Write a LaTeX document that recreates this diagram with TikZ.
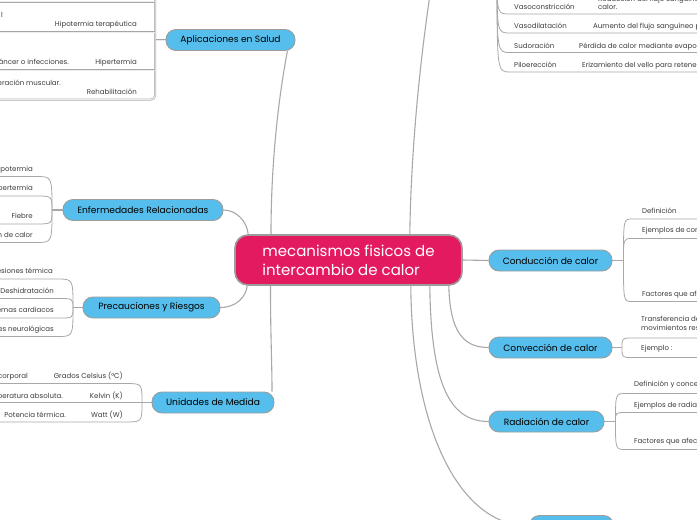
\documentclass[tikz,border=0pt]{standalone}
\usepackage{fontspec}
\setmainfont{Poppins}
\usetikzlibrary{backgrounds}
\definecolor{crim}{HTML}{E41A60}
\definecolor{sky}{HTML}{56BEEC}
\definecolor{lgray}{HTML}{A8A8A8}
\definecolor{bgray}{HTML}{9C9C9C}
\definecolor{txt}{HTML}{3A3A3A}
\begin{document}
\begin{tikzpicture}[x=1pt,y=-1pt,
  central/.style={rounded corners=13pt, fill=crim, draw=bgray, line width=1.6pt, text=white,
    font=\fontsize{15}{19}\selectfont, align=left, minimum width=227pt, minimum height=50pt, inner sep=0pt},
  topic/.style={rounded corners=10pt, fill=sky, draw=bgray, line width=0.9pt,
    font=\fontsize{9.1}{11}\selectfont, minimum height=21pt, inner sep=0pt, text=black},
  conn/.style={draw=lgray, line width=1.1pt},
  leafline/.style={draw=lgray, line width=0.8pt},
  lt/.style={font=\fontsize{7}{8.5}\selectfont, text=txt, inner sep=0pt},
  lte/.style={lt, anchor=base east},
  ltw/.style={lt, anchor=base west},
  boxline/.style={draw=gray!70, double=gray!15, double distance=1pt, line width=0.5pt}
]
\useasboundingbox (0,0) rectangle (697,520);
\clip (0,0) rectangle (697,520);

% central and topics
\node[central] (c) at (348.5,260) {mecanismos fisicos de\\intercambio de calor};
\node[topic, minimum width=129pt] (apl) at (230.5,40) {Aplicaciones en Salud};
\node[topic, minimum width=160pt] (enf) at (143,210) {Enfermedades Relacionadas};
\node[topic, minimum width=137pt] (pre) at (151.5,307.5) {Precauciones y Riesgos};
\node[topic, minimum width=122pt] (uni) at (213,402.5) {Unidades de Medida};
\node[topic, minimum width=123pt] (cond) at (550.5,260.5) {Conducción de calor};
\node[topic, minimum width=123pt] (conv) at (550.5,347.5) {Convección de calor};
\node[topic, minimum width=115pt] (rad) at (546.5,421.5) {Radiación de calor};
\node[topic, minimum width=84pt] (bot) at (571.5,526) {};
\coordinate (top) at (431,-12);

% junctions
\coordinate (aJ) at (155,40);
\coordinate (eJ) at (52,210);
\coordinate (pJ) at (73,307.5);
\coordinate (uJ) at (142,402.5);
\coordinate (cJ) at (623.5,260.5);
\coordinate (vJ) at (622,347.5);
\coordinate (rJ) at (615.5,421.5);
\coordinate (tJ) at (497,-30);

\begin{pgfonlayer}{background}
% main connectors
\draw[conn] ([xshift=-8pt]apl.south east) .. controls (279,95) and (271,160) .. ([xshift=-77.5pt]c.north);
\draw[conn] (enf.east) .. controls (237,210) and (247,222) .. ([xshift=14pt]c.north west);
\draw[conn] (pre.east) .. controls (236,307.5) and (246,297) .. ([xshift=13pt]c.south west);
\draw[conn] ([xshift=-78pt]c.south) .. controls (270.5,340) and (272,360) .. ([xshift=59pt]uni.north);
\draw[conn] (c.east) -- (cond.west);
\draw[conn] ([xshift=-14pt]c.south east) .. controls (450,330) and (462,347.5) .. (conv.west);
\draw[conn] ([xshift=-33pt]c.south east) .. controls (431,385) and (450,421.5) .. (rad.west);
\draw[conn] ([xshift=-52pt]c.south east) .. controls (412,430) and (460,526) .. (bot.west);
\draw[conn] ([xshift=-53pt]c.north east) .. controls (411,150) and (420,60) .. (top);

% topic to junction
\draw[boxline] (apl.west) -- (aJ);
\draw[conn] (enf.west) -- (eJ);
\draw[conn] (pre.west) -- (pJ);
\draw[conn] (uni.west) -- (uJ);
\draw[conn] (cond.east) -- (cJ);
\draw[conn] (conv.east) -- (vJ);
\draw[conn] (rad.east) -- (rJ);
\end{pgfonlayer}

% ---- Aplicaciones en Salud (boxed leaves)
\draw[boxline, rounded corners=4pt] (-5,99.5) -| (155,-8);
\draw[boxline] (-5,1.5) -- (155,1.5);
\draw[boxline] (-5,32) -- (155,32);
\draw[boxline] (-5,70) -- (155,70);
\node[lte] (a0) at (3,17) {l};
\node[lte] (a1) at (137,26) {Hipotermia terapéutica};
\node[lte] (a2) at (69,64) {cáncer o infecciones.};
\node[lte] (a3) at (137,64) {Hipertermia};
\node[lte] (a4) at (61,85) {peración muscular.};
\node[lte] (a5) at (137,94) {Rehabilitación};

% ---- Enfermedades Relacionadas
\node[lte] (e1) at (33,171.5) {ipotermia};
\node[lte] (e2) at (33,190.5) {pertermia};
\node[lte] (e3) at (33,218) {Fiebre};
\node[lte] (e4) at (33,237) {n de calor};
\draw[leafline] (-5,176.5) -- (36,176.5) .. controls (52,176.5) .. (eJ);
\draw[leafline] (-5,196) -- (36,196) .. controls (52,196) .. (eJ);
\draw[leafline] (-5,224) -- (36,224) .. controls (52,224) .. (eJ);
\draw[leafline] (-5,242.5) -- (36,242.5) .. controls (52,242.5) .. (eJ);

% ---- Precauciones y Riesgos
\node[lte] (p1) at (53,273.5) {esiones térmica};
\node[lte] (p2) at (54,293) {Deshidratación};
\node[lte] (p3) at (54,312) {emas cardiacos};
\node[lte] (p4) at (54,331) {es neurológicas};
\draw[leafline] (-5,279) -- (57,279) .. controls (73,279) .. (pJ);
\draw[leafline] (-5,298.5) -- (57,298.5) .. controls (73,298.5) .. (pJ);
\draw[leafline] (-5,318) -- (60,318) .. controls (73,318) .. (pJ);
\draw[leafline] (-5,336.5) -- (57,336.5) .. controls (73,336.5) .. (pJ);

% ---- Unidades de Medida
\node[lte] (u1) at (28,378) {corporal};
\node[lte] (u1b) at (123,378) {Grados Celsius (°C)};
\node[lte] (u2) at (63,398) {peratura absoluta.};
\node[lte] (u2b) at (123,398) {Kelvin (K)};
\node[lte] (u3) at (66,417) {Potencia térmica.};
\node[lte] (u3b) at (123,417) {Watt (W)};
\draw[leafline] (-5,383.5) -- (125,383.5) .. controls (142,383.5) .. (uJ);
\draw[leafline] (-5,402.5) -- (uJ);
\draw[leafline] (-5,422) -- (125,422) .. controls (142,422) .. (uJ);

% ---- Conduccion
\node[ltw] (k1) at (642,213.5) {Definición};
\node[ltw] (k2) at (642,232.5) {Ejemplos de con};
\node[ltw] (k3) at (642,296) {Factores que afe};
\draw[leafline] (cJ) .. controls (623.5,219) .. (632,219) -- (705,219);
\draw[leafline] (cJ) .. controls (623.5,238.5) .. (632,238.5) -- (705,238.5);
\draw[leafline] (cJ) .. controls (623.5,301.5) .. (632,301.5) -- (705,301.5);

% ---- Conveccion
\node[ltw] (v1) at (641,321.5) {Transferencia de};
\node[ltw] (v1b) at (641,330) {movimientos res};
\node[ltw] (v2) at (641,350) {Ejemplo :};
\draw[leafline] (vJ) .. controls (622,338) .. (632,338) -- (705,338);
\draw[leafline] (vJ) .. controls (622,357.5) .. (632,357.5) -- (705,357.5);

% ---- Radiacion
\node[ltw] (r1) at (634,386) {Definición y concep};
\node[ltw] (r2) at (634,407) {Ejemplos de radia};
\node[ltw] (r3) at (634,443.5) {Factores que afect};
\draw[leafline] (rJ) .. controls (615.5,393.5) .. (626,393.5) -- (705,393.5);
\draw[leafline] (rJ) .. controls (615.5,412.5) .. (626,412.5) -- (705,412.5);
\draw[leafline] (rJ) .. controls (615.5,449.5) .. (626,449.5) -- (705,449.5);

% ---- top right (off-picture topic)
\node[ltw] (t0) at (598,1) {Reducción del flujo sanguíneo};
\node[ltw] (t1) at (514,9.5) {Vasoconstricción};
\node[ltw] (t1b) at (598,9.5) {calor.};
\node[ltw] (t2) at (514,28.5) {Vasodilatación};
\node[ltw] (t2b) at (593,28.5) {Aumento del flujo sanguíneo p};
\node[ltw] (t3) at (514,48) {Sudoración};
\node[ltw] (t3b) at (579,48) {Pérdida de calor mediante evapor};
\node[ltw] (t4) at (514,67) {Piloerección};
\node[ltw] (t4b) at (582,67) {Erizamiento del vello para retener};
\draw[leafline] (tJ) .. controls (497,14) .. (510,14) -- (705,14);
\draw[leafline] (tJ) .. controls (497,33) .. (510,33) -- (705,33);
\draw[leafline] (tJ) .. controls (497,52.5) .. (510,52.5) -- (705,52.5);
\draw[leafline] (tJ) .. controls (497,72) .. (510,72) -- (705,72);
\end{tikzpicture}
\end{document}
